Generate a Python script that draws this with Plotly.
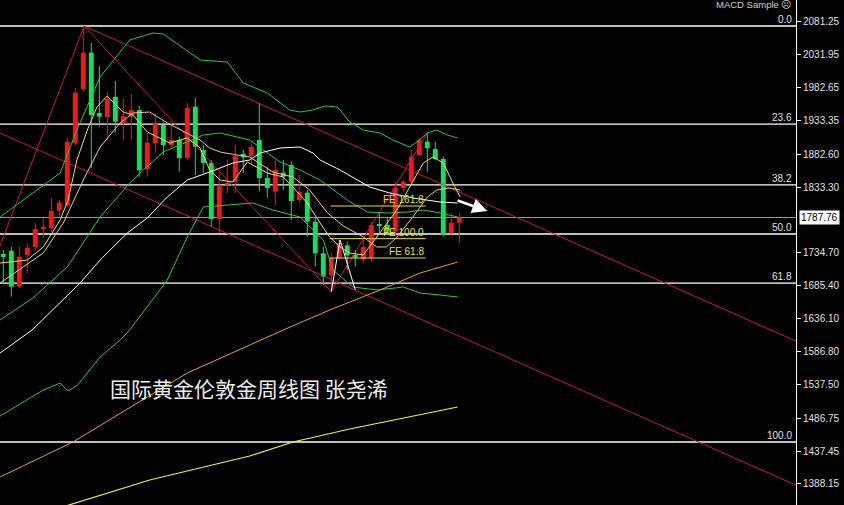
import plotly.graph_objects as go

# ---------------- data (weekly candles) ----------------
opens = [1733, 1738, 1684, 1731.5, 1743.5, 1770.5, 1772, 1798, 1806.5, 1899, 1980, 2035, 1944.5, 1938.5,
         1968.5, 1929.5, 1939, 1949, 1860, 1899, 1926.5, 1896.5, 1904, 1877, 1954, 1889, 1869.5, 1785.5,
         1837, 1841.5, 1883, 1880, 1904, 1847, 1826.5, 1855, 1866.5, 1814, 1825, 1781.5, 1734, 1701.5,
         1727, 1746, 1731.5, 1724.75, 1727, 1778, 1776.5, 1766.5, 1832, 1841.5, 1881.5, 1901.5, 1890.5,
         1875.5, 1764, 1780]
closes = [1728.5, 1684, 1729, 1742, 1770.5, 1774, 1797.5, 1810, 1901.5, 1975, 2035, 1941.5, 1939, 1965.5,
          1931.5, 1940, 1949, 1859, 1900, 1929, 1896.5, 1904, 1877, 1952, 1894, 1869.5, 1785.5, 1836.5,
          1840, 1880, 1878, 1893.5, 1847, 1832, 1859, 1849, 1812.5, 1826, 1781.5, 1734, 1699, 1727,
          1749.5, 1731, 1728, 1743.5, 1776.5, 1775, 1766.5, 1832, 1841.5, 1879, 1904, 1891.5, 1875.5,
          1761.5, 1780, 1787.76]
highs = [1739, 1744, 1744, 1749.5, 1779.5, 1787, 1817, 1814, 1907, 1982, 2075, 2049.5, 2015, 1976.5,
         1992.5, 1967, 1973, 1955, 1914.5, 1944.5, 1931.5, 1931.5, 1909, 1959.5, 1967, 1896.5, 1874, 1854.5,
         1875, 1896.5, 1889, 1899, 1959.5, 1864, 1874, 1874, 1871.5, 1851.5, 1829, 1789, 1744, 1734.5,
         1754, 1751.5, 1739, 1754, 1781.5, 1794.5, 1787, 1841.5, 1844, 1889, 1907, 1914.5, 1901.5,
         1879, 1794.5, 1795]
lows = [1691, 1669, 1682, 1704.5, 1739, 1757, 1766, 1788.5, 1803.5, 1896.5, 1976.5, 1862, 1924, 1904,
        1915, 1904, 1904, 1849, 1849, 1884.5, 1881.5, 1892, 1856.5, 1874, 1851.5, 1854.5, 1774, 1764.5,
        1824, 1824.5, 1854.5, 1869, 1826.5, 1817, 1806.5, 1829, 1784, 1809.5, 1759, 1714, 1686.5, 1676.5,
        1724, 1709, 1714, 1719, 1721.5, 1761.5, 1761.5, 1761.5, 1826.5, 1839.5, 1879, 1856.5, 1874,
        1760, 1763, 1749]
last_price = 1787.76

# ---------------- indicator lines (bar index, price) ----------------
ma_fast_x = [-0.4, 3.0, 5.0, 7.1, 8.1, 9.2, 10.5, 11.7, 13.0, 13.7, 15.0, 16.2, 18.0, 20.8, 23.0, 24.6, 25.8,
             27.1, 28.7, 30.5, 33.0, 35.0, 36.2, 38.0, 39.6, 40.8, 42.1, 43.3, 45.0, 47.1, 49.2, 50.8, 52.5,
             53.7, 55.0, 56.2, 57.1]
ma_fast_y = [1719.5, 1724, 1743.5, 1784, 1814, 1874, 1919, 1953.5, 1970, 1961, 1946, 1941.5, 1916, 1899.5,
             1907, 1892, 1859, 1844, 1841, 1871, 1854.5, 1848.5, 1833.5, 1809.5, 1779.5, 1758.5, 1743.5,
             1734.5, 1731.5, 1764.5, 1799, 1833.5, 1869.5, 1878.5, 1869.5, 1839.5, 1818.5]

ma_mid_x = [-0.4, 5.0, 7.5, 10.0, 12.1, 14.6, 16.2, 18.3, 20.5, 23.0, 24.6, 25.8, 27.1, 29.2, 30.8, 33.7,
            36.2, 38.3, 40.5, 42.5, 45.0, 46.7, 47.9, 49.2, 51.2, 53.0, 54.2, 55.8, 57.1]
ma_mid_y = [1689.5, 1734.5, 1779.5, 1844, 1893.5, 1929.5, 1944.5, 1946, 1929.5, 1914.5, 1904, 1892, 1886,
            1881.5, 1878.5, 1856, 1848.5, 1829, 1795, 1775, 1758.5, 1743.5, 1743.5, 1758.5, 1788.5, 1818.5,
            1829, 1832, 1829]

bb_up_x = [-0.4, 3.3, 7.1, 9.2, 12.1, 15.8, 18.7, 20.0, 24.6, 28.0, 30.0, 33.0, 35.8, 37.1, 38.7, 40.2,
           41.8, 43.3, 45.0, 47.1, 48.7, 50.8, 51.7, 53.0, 54.2, 55.5, 56.8]
bb_up_y = [1788.5, 1821.5, 1854.5, 1919, 1998.5, 2054, 2064.5, 2063, 2024, 2021, 1989.5, 1974.5, 1949, 1946,
           1949, 1955, 1953.5, 1931, 1919, 1914.5, 1904, 1893.5, 1901, 1914.5, 1919, 1911.5, 1907]

bb_mid_x = [-0.4, 3.7, 8.0, 12.1, 15.8, 17.5, 20.0, 25.0, 27.1, 30.8, 34.6, 37.1, 39.6, 43.0, 45.5, 48.3,
            50.5, 52.5, 54.6, 56.8]
bb_mid_y = [1634, 1667, 1713.5, 1788.5, 1839.5, 1859, 1886, 1911.5, 1914.5, 1904, 1871, 1859, 1844, 1814,
            1796, 1794.5, 1796, 1799, 1794.5, 1788.5]

bb_low_x = [-0.4, 5.0, 7.1, 8.1, 9.3, 12.1, 14.6, 15.8, 20.5, 23.0, 25.0, 28.0, 31.2, 33.7, 37.1, 40.0,
            41.2, 43.7, 46.7, 50.0, 52.1, 54.6, 56.8]
bb_low_y = [1490, 1529, 1539.5, 1527.5, 1536.5, 1578.5, 1604, 1619, 1694, 1758.5, 1803.5, 1806.5, 1809.5,
            1799, 1788.5, 1754, 1709, 1683.5, 1679, 1683.5, 1674.5, 1671.5, 1668.5]

ma_white_x = [-0.4, 3.6, 9.6, 12.1, 15.5, 18.0, 20.5, 23.0, 25.8, 28.7, 30.8, 32.1, 34.6, 37.1, 38.7, 39.6,
              42.1, 44.2, 45.8, 48.3, 51.2, 54.6, 56.8]
ma_white_y = [1584.5, 1619, 1689.5, 1724, 1764.5, 1787, 1818.5, 1844, 1856, 1869.5, 1874, 1884.5, 1892,
              1893.5, 1884.5, 1874, 1859, 1844, 1833.5, 1824.5, 1817, 1811, 1809.5]

ma_orange_x = [-0.4, 8.7, 18.0, 23.0, 35.0, 40.8, 47.1, 52.1, 56.8]
ma_orange_y = [1398.5, 1451, 1518.5, 1554.5, 1619, 1649, 1679, 1704.5, 1721]

ma_long_x = [7.8, 18.3, 30.8, 36.2, 43.3, 52.1, 56.8]
ma_long_y = [1355, 1394, 1430, 1451, 1470.5, 1491.5, 1503.5]

# trend / channel lines: (x0, y0, x1, y1)
trend_lines = [(-1.0, 1727, 10.1, 2075),
               (10.1, 2075, 41.0, 1676.5),
               (10.1, 2075, 100.0, 1597.6),
               (-1.0, 1917.7, 100.0, 1381.4),
               (41.0, 1676.5, 53.0, 1914.5)]

# Fibonacci retracement
fib_labels = ["0.0", "23.6", "38.2", "50.0", "61.8", "100.0"]
fib_prices = [2075, 1927.7, 1836.6, 1763, 1689.4, 1451]

# Fibonacci expansion
fe_labels = ["FE 161.8", "FE 100.0", "FE 61.8"]
fe_prices = [1805, 1756, 1727]
fe_start = [40.9, 40.8, 40.8]
fe_end = 52.8
zig_x = [41.0, 42.1, 44.0]
zig_y = [1676.5, 1754, 1679]

tick_vals = [2081.25, 2031.95, 1982.65, 1933.35, 1882.60, 1833.30, 1734.70, 1685.40, 1636.10,
             1586.80, 1537.50, 1486.75, 1437.45, 1388.15]

title_text = "国际黄金伦敦金周线图 张尧浠"

# ---------------- figure ----------------
UP = "#f01818"
DOWN = "#14e05a"
fig = go.Figure()

# fib retracement lines
for p in fib_prices:
    fig.add_shape(type="line", xref="paper", x0=0, x1=1, yref="y", y0=p, y1=p,
                  line=dict(color="#ffffff", width=1.3), layer="below")
# current price line
fig.add_shape(type="line", xref="paper", x0=0, x1=1, yref="y", y0=last_price, y1=last_price,
              line=dict(color="#9a9a9a", width=1), layer="below")

# red trend lines
for (x0, y0, x1, y1) in trend_lines:
    fig.add_trace(go.Scatter(x=[x0, x1], y=[y0, y1], mode="lines",
                             line=dict(color="#c8193c", width=1), hoverinfo="skip", showlegend=False))

# candles: wicks + bodies
idx = list(range(len(opens)))
for col, cond in ((UP, lambda o, c: c >= o), (DOWN, lambda o, c: c < o)):
    wx, wy = [], []
    bx, bb, bh = [], [], []
    for i in idx:
        o, c = opens[i], closes[i]
        if cond(o, c):
            wx += [i, i, None]
            wy += [lows[i], highs[i], None]
            bx.append(i)
            bb.append(min(o, c))
            bh.append(max(abs(c - o), 1.2))
    fig.add_trace(go.Scatter(x=wx, y=wy, mode="lines", line=dict(color=col, width=1),
                             hoverinfo="skip", showlegend=False))
    fig.add_trace(go.Bar(x=bx, y=bh, base=bb, width=0.62, marker=dict(color=col, line=dict(width=0)),
                         hoverinfo="skip", showlegend=False))

# indicators
def line(xs, ys, color, width=1):
    fig.add_trace(go.Scatter(x=xs, y=ys, mode="lines", line=dict(color=color, width=width),
                             hoverinfo="skip", showlegend=False))

line(bb_up_x, bb_up_y, "#2ec82e")
line(bb_mid_x, bb_mid_y, "#2ec82e")
line(bb_low_x, bb_low_y, "#2ec82e")
line(ma_white_x, ma_white_y, "#ffffff")
line(ma_orange_x, ma_orange_y, "#e0a030")
line(ma_long_x, ma_long_y, "#f5f030", 1.2)
line(ma_mid_x, ma_mid_y, "#f0c0a0")
line(ma_fast_x, ma_fast_y, "#f0e040")

# Fibonacci expansion
for lab, p, s in zip(fe_labels, fe_prices, fe_start):
    fig.add_trace(go.Scatter(x=[s, fe_end], y=[p, p], mode="lines", line=dict(color="#e8e030", width=1),
                             hoverinfo="skip", showlegend=False))
    fig.add_annotation(x=fe_end, y=p, xref="x", yref="y", text=lab, showarrow=False,
                       xanchor="right", yanchor="bottom", yshift=-1,
                       font=dict(family="Liberation Sans", size=10, color="#e8e030"))
fig.add_trace(go.Scatter(x=zig_x, y=zig_y, mode="lines", line=dict(color="#ffffff", width=1),
                         hoverinfo="skip", showlegend=False))

# fib labels
for lab, p in zip(fib_labels, fib_prices):
    fig.add_annotation(x=1, y=p, xref="paper", yref="y", text=lab, showarrow=False,
                       xanchor="right", yanchor="bottom", xshift=-2, yshift=-1,
                       font=dict(family="Liberation Sans", size=10, color="#e0e0e0"))

# arrow
fig.add_annotation(x=60.5, y=1797.5, ax=56.6, ay=1814, xref="x", yref="y", axref="x", ayref="y",
                   text="", showarrow=True, arrowhead=2, arrowsize=1.2, arrowwidth=2.5,
                   arrowcolor="#ffffff")

# title text
fig.add_annotation(x=30.7, y=1532, xref="x", yref="y", text=title_text, showarrow=False,
                   font=dict(family="Noto Sans CJK SC", size=21, color="#ececec"))

# MACD Sample label
fig.add_annotation(x=1, y=1, xref="paper", yref="paper", text="MACD Sample ☹", showarrow=False,
                   xanchor="right", yanchor="top", xshift=-3, yshift=3,
                   font=dict(family="Liberation Sans", size=9.5, color="#d0d0d0"))

# current price box
fig.add_annotation(x=1, y=last_price, xref="paper", yref="y", text=f"{last_price:.2f}", showarrow=False,
                   xanchor="left", xshift=3, bgcolor="#ffffff", borderpad=1,
                   font=dict(family="Liberation Sans", size=10, color="#000000"))

fig.update_layout(
    width=844, height=505, margin=dict(l=0, r=48, t=0, b=0),
    paper_bgcolor="#000000", plot_bgcolor="#000000",
    barmode="overlay", showlegend=False,
    xaxis=dict(range=[-0.4125, 99.09], visible=False, fixedrange=True),
    yaxis=dict(range=[1356.5, 2114], side="right", showgrid=False, zeroline=False,
               tickvals=tick_vals, ticktext=[f"{v:.2f}" for v in tick_vals],
               ticks="outside", ticklen=4, tickcolor="#ffffff", showline=True, linecolor="#ffffff",
               linewidth=1, tickfont=dict(family="Liberation Sans", size=10, color="#e0e0e0")),
)

fig.write_html("out.html", config={"displayModeBar": False},
               post_script="document.body.style.margin='0';document.body.style.background='#000';")
